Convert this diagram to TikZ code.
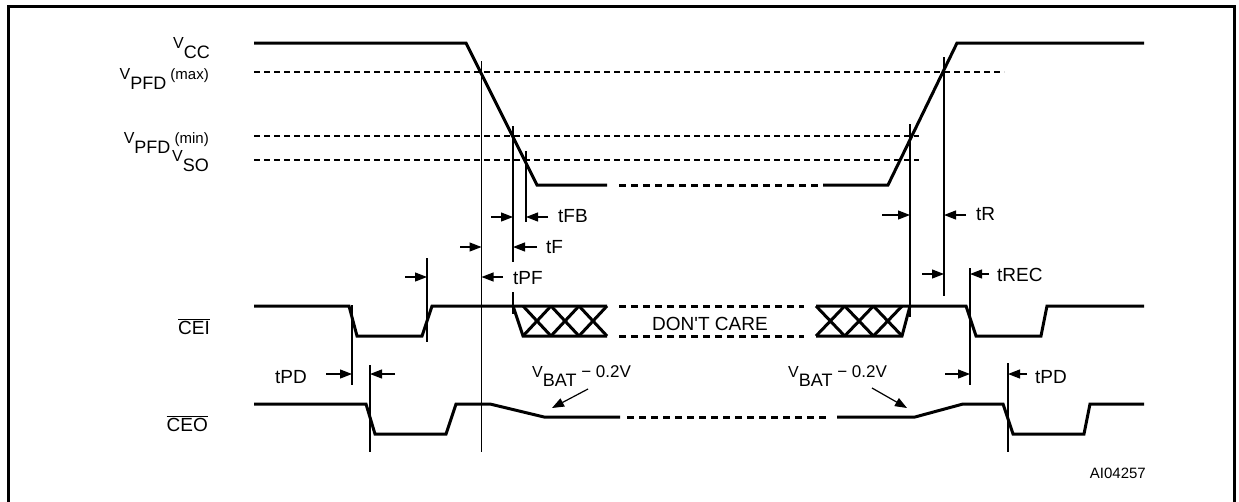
\documentclass[tikz,border=0pt]{standalone}
\usepackage{fontspec}
\setmainfont{Liberation Sans}
\usetikzlibrary{arrows.meta}

\tikzset{
  wave/.style = {line width=3pt},
  wavedash/.style = {line width=3pt, dash pattern=on 7pt off 5pt},
  level/.style = {line width=2.2pt, dash pattern=on 6pt off 4pt},
  guide/.style = {line width=1.2pt},
  dim/.style = {line width=1.2pt, -{Triangle[length=12pt,width=9pt]}},
  pointer/.style = {line width=1.2pt, -{Triangle[length=12pt,width=9pt]}},
  lbl/.style = {font=\fontsize{19}{19}\selectfont, inner sep=0pt}
}
\newcommand{\vsym}[2]{{\fontsize{16}{16}\selectfont V}\raisebox{-9.5pt}{\fontsize{18}{18}\selectfont #1}{\fontsize{15}{15}\selectfont #2}}

\begin{document}
\begin{tikzpicture}[x=1pt, y=-1pt]
\useasboundingbox (0, 0) rectangle (1239, 501);
\draw[line width=3pt] (8.5, 510) -- (8.5, 6) -- (1234.5, 6) -- (1234.5, 510);

% levels
\draw[level] (254, 72) -- (1004, 72);
\draw[level] (254, 136) -- (919, 136);
\draw[level] (254, 160) -- (919, 160);
\node (vcc) [lbl, anchor=base east] at (210, 48.5) {\vsym{CC}{}};
\node (vpfdmax) [lbl, anchor=base east] at (209, 79.5) {\vsym{PFD}{\ (max)}};
\node (vpfdmin) [lbl, anchor=base east] at (209, 143.5) {\vsym{PFD}{\ (min)}};
\node (vso) [lbl, anchor=base east] at (209, 161.5) {\vsym{SO}{}};

% supply
\draw[wave] (254, 43) -- (466, 43) -- (537, 185) -- (607, 185);
\draw[wavedash] (619, 185) -- (820, 185);
\draw[wave] (823, 185) -- (888, 185) -- (957, 43) -- (1144, 43);

% CEI
\node (cei) [lbl, anchor=base east] at (210, 334) {$\overline{\mbox{CEI}}$};
\draw[wave] (254, 306) -- (349, 306) -- (357, 336) -- (422, 336) -- (432, 306) -- (607, 306);
\draw[wave] (513, 306) -- (523, 336) -- (607, 336);
\foreach \i in {0, 1, 2}
  \draw[wave] ({523+28*\i}, 306) -- ({551+28*\i}, 336) ({523+28*\i}, 336) -- ({551+28*\i}, 306);
\draw[wavedash] (619, 306) -- (804, 306) (619, 336) -- (804, 336);
\node (dontcare) [lbl, anchor=base] at (710, 330) {DON\textquotesingle T CARE};
\draw[wave] (816, 336) -- (902, 336) -- (910, 306);
\foreach \i in {0, 1, 2}
  \draw[wave] ({816+28.7*\i}, 306) -- ({844.7+28.7*\i}, 336) ({816+28.7*\i}, 336) -- ({844.7+28.7*\i}, 306);
\draw[wave] (816, 306) -- (966, 306) -- (976, 336) -- (1041, 336) -- (1047, 306) -- (1144, 306);

% CEO
\node (ceo) [lbl, anchor=base east] at (208, 431) {$\overline{\mbox{CEO}}$};
\draw[wave] (254, 404) -- (366, 404) -- (375, 434) -- (446, 434) -- (456, 404) -- (490, 404)
  -- (544, 417) -- (620, 417);
\draw[wavedash] (627, 417) -- (828, 417);
\draw[wave] (837, 417) -- (915, 417) -- (963, 404) -- (1003, 404) -- (1013, 434)
  -- (1084, 434) -- (1090, 404) -- (1144, 404);
\node (vbatl) [lbl, anchor=base west] at (532, 377) {\vsym{BAT}{}\fontsize{17}{17}\selectfont\ − 0.2V};
\node (vbatr) [lbl, anchor=base west] at (788, 377) {\vsym{BAT}{}\fontsize{17}{17}\selectfont\ − 0.2V};
\coordinate (tipl) at (552, 408);
\coordinate (tipr) at (907, 408);
\draw[pointer] (588, 389) -- (tipl);
\draw[pointer] (872, 388) -- (tipr);

% guides
\draw[guide] (481.5, 61) -- (481.5, 452);
\draw[guide] (513, 126) -- (513, 262) (513, 292) -- (513, 314);
\draw[guide] (526, 151) -- (526, 222);
\draw[guide] (427, 258) -- (427, 342);
\draw[guide] (352, 305) -- (352, 385);
\draw[guide] (370, 365) -- (370, 452);
\draw[guide] (910, 124) -- (910, 317);
\draw[guide] (944, 57) -- (944, 296);
\draw[guide] (970, 268) -- (970, 385);
\draw[guide] (1008, 363) -- (1008, 452);

% timings
\draw[dim] (491, 217) -- (513, 217);
\draw[dim] (548, 217) -- (526, 217);
\node (tfb) [lbl, anchor=base west] at (558, 222) {tFB};
\draw[dim] (460, 247) -- (481.5, 247);
\draw[dim] (537, 247) -- (513, 247);
\node (tf) [lbl, anchor=base west] at (546, 253) {tF};
\draw[dim] (405, 277) -- (427, 277);
\draw[dim] (503, 277) -- (481.5, 277);
\node (tpf) [lbl, anchor=base west] at (513, 284) {tPF};
\draw[dim] (882, 215) -- (910, 215);
\draw[dim] (966, 215) -- (944, 215);
\node (tr) [lbl, anchor=base west] at (976, 220) {tR};
\draw[dim] (922, 274) -- (944, 274);
\draw[dim] (989, 274) -- (970, 274);
\node (trec) [lbl, anchor=base west] at (997, 281) {tREC};
\draw[dim] (326, 374) -- (352, 374);
\draw[dim] (395, 374) -- (370, 374);
\node (tpdl) [lbl, anchor=base east] at (307, 383) {tPD};
\draw[dim] (945, 374) -- (970, 374);
\draw[dim] (1027, 374) -- (1008, 374);
\node (tpdr) [lbl, anchor=base west] at (1035, 383) {tPD};

\node (ref) [inner sep=0pt, anchor=base east, font=\fontsize{15}{15}\selectfont] at (1146, 478) {AI04257};
\end{tikzpicture}
\end{document}
